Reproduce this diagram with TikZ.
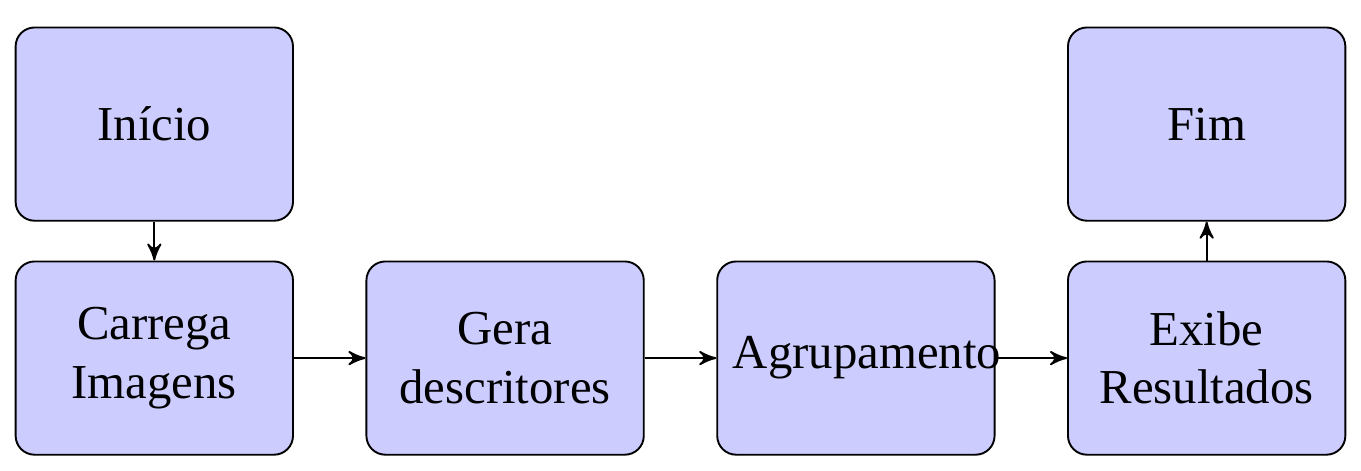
\documentclass[tikz,border=0pt]{standalone}
\usepackage{fontspec}
\setmainfont{Liberation Serif}
\usetikzlibrary{arrows}
\usetikzlibrary{positioning}

\begin{document}
\begin{tikzpicture}[line width =0.4pt, node distance=15.1pt,
    bloco/.style={draw, rounded corners=4pt, fill=blue!20, text width=51.9pt,
        align=center, minimum height=40.8pt, inner sep=3.33pt,
        font=\fontsize{10.3pt}{12.3pt}\selectfont}]

\node[bloco] (carrega) {Carrega Imagens};
\node[bloco, above=8.2pt of carrega] (inicio) {Início};
\node[bloco, right=of carrega] (gera) {Gera descritores};
\node[bloco, right=of gera] (agrupa) {Agrupamento};
\node[bloco, right=of agrupa] (exibe) {Exibe Resultados};
\node[bloco, above=8.2pt of exibe] (fim) {Fim};

\draw[->, >=stealth'] (inicio) -- (carrega);
\draw[->, >=stealth'] (carrega) -- (gera);
\draw[->, >=stealth'] (gera) -- (agrupa);
\draw[->, >=stealth'] (agrupa) -- (exibe);
\draw[->, >=stealth'] (exibe) -- (fim);

\useasboundingbox ([xshift=-3.1pt, yshift=5.6pt]inicio.north west) rectangle ([xshift=3.1pt, yshift=-3.1pt]exibe.south east);
\end{tikzpicture}
\end{document}
